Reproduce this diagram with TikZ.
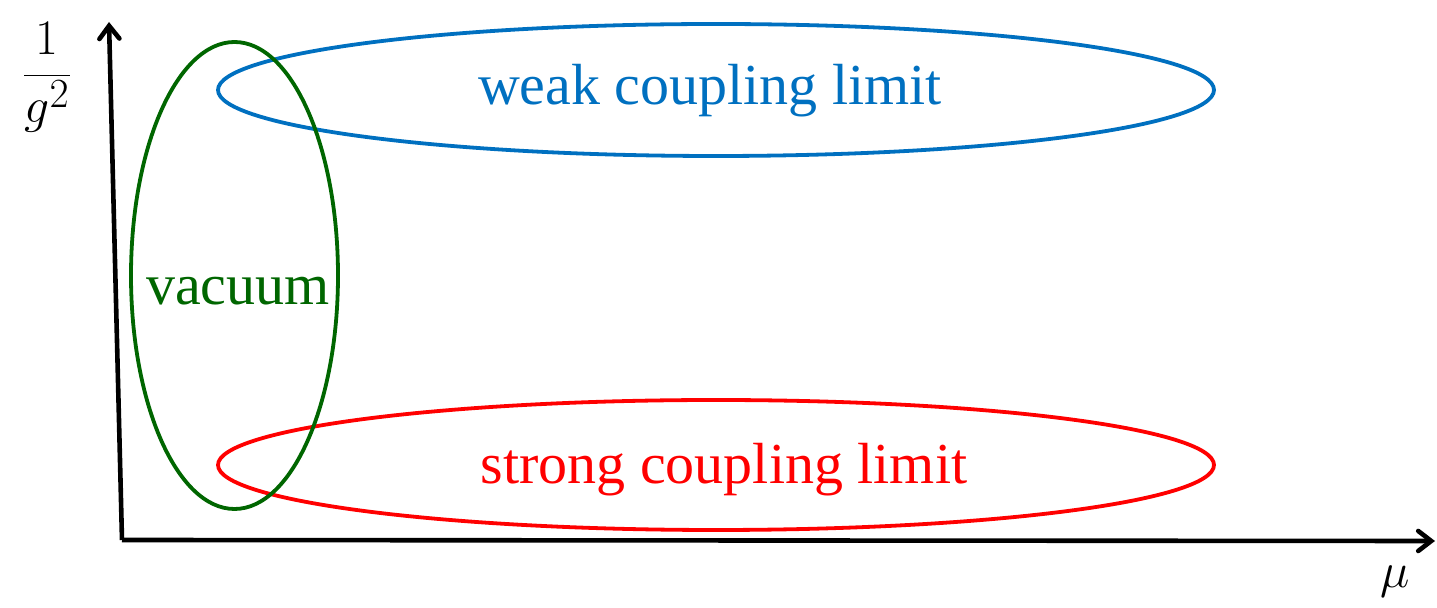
\documentclass[tikz,border=0pt]{standalone}
\usepackage{fontspec}
\setmainfont{Liberation Serif}
\usetikzlibrary{arrows.meta,shapes.geometric}
\definecolor{wblue}{HTML}{0070C0}
\definecolor{vgreen}{HTML}{006600}
\definecolor{sred}{HTML}{FF0000}
\begin{document}
\begin{tikzpicture}[x=0.5pt,y=-0.5pt,
  axis/.style={line width=2.3pt,-{Straight Barb[length=6.5pt,width=10pt,line cap=round]}},
  region/.style={ellipse,draw,line width=1.9pt,inner sep=0pt},
  lbl/.style={font=\fontsize{29}{34}\selectfont,anchor=base,inner sep=0pt}]
\useasboundingbox (0,0) rectangle (1437,608);
% axes
\coordinate (O) at (122,540);
\coordinate (ytop) at (109,22);
\coordinate (xend) at (1435,541);
\draw[axis] (O) -- (ytop);
\draw[axis] (O) -- (xend);
\node[font=\fontsize{28}{33}\selectfont,inner sep=0pt] (ylab) at (47,77) {$\displaystyle\frac{1}{g^{2}}$};
\node[font=\fontsize{31}{36}\selectfont,anchor=base,inner sep=0pt] (xlab) at (1395,588) {$\mu$};
% regions
\node[region,draw=wblue,minimum width=498pt,minimum height=66pt] (weak) at (716,90) {};
\node[region,draw=sred,minimum width=498pt,minimum height=65pt] (strong) at (716,465) {};
\node[region,draw=vgreen,minimum width=103.5pt,minimum height=233.5pt] (vac) at (234.5,275.5) {};
% labels
\node[lbl,text=wblue] (weaklbl) at (710,105) {weak coupling limit};
\node[lbl,text=sred] (stronglbl) at (724,484) {strong coupling limit};
\node[lbl,text=vgreen] (vaclbl) at (238,305) {vacuum};
\end{tikzpicture}
\end{document}
